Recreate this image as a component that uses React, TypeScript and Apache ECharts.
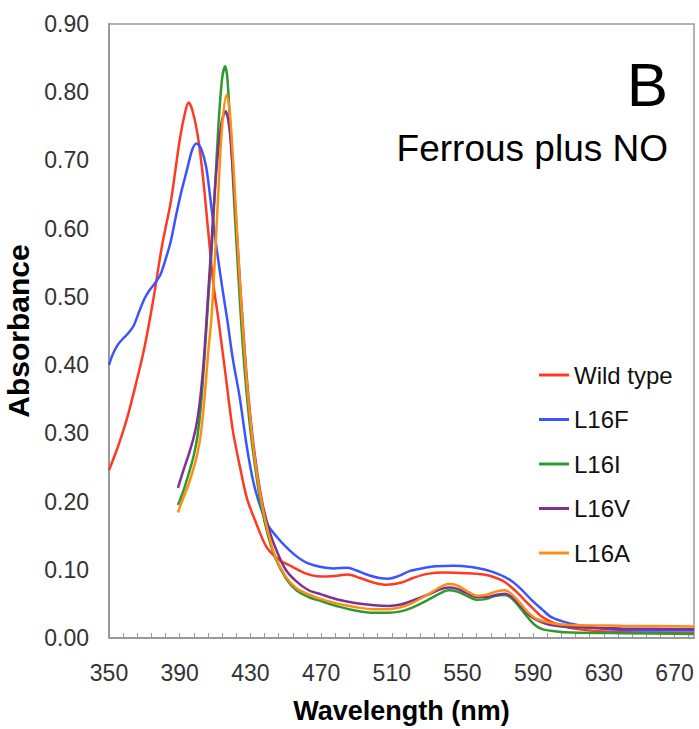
import * as echarts from "echarts";
import { useEffect, useRef } from "react";

// wavelengths (nm) for the full-range scans
const wlWild = [350, 355, 360, 365, 370, 375, 380, 385, 390, 393, 395, 397, 400, 403, 406, 409, 412, 416, 420, 424, 428, 433, 439, 446, 454, 462, 470, 478, 485, 492, 500, 507, 515, 522, 530, 540, 552, 562, 568, 574, 580, 585, 590, 595, 600, 607, 615, 628, 650, 681];
const absWild = [0.246, 0.28, 0.32, 0.37, 0.425, 0.495, 0.575, 0.64, 0.73, 0.77, 0.785, 0.775, 0.74, 0.68, 0.6, 0.52, 0.465, 0.385, 0.305, 0.252, 0.205, 0.17, 0.134, 0.115, 0.104, 0.094, 0.09, 0.091, 0.093, 0.088, 0.081, 0.078, 0.081, 0.088, 0.094, 0.096, 0.095, 0.093, 0.089, 0.082, 0.069, 0.056, 0.043, 0.031, 0.024, 0.017, 0.013, 0.01, 0.008, 0.007];

const wlL16F = [350, 352, 355, 358, 361, 364, 367, 370, 373, 376, 379, 382, 385, 388, 391, 394, 397, 399.5, 402, 405, 408, 411, 414, 417, 420, 424, 428, 432, 436, 440, 445, 450, 456, 462, 470, 477, 485, 490, 497, 503, 508, 514, 520, 527, 535, 545, 555, 563, 570, 577, 583, 589, 595, 600, 607, 615, 625, 638, 660, 681];
const absL16F = [0.4, 0.415, 0.43, 0.439, 0.447, 0.458, 0.478, 0.497, 0.51, 0.52, 0.532, 0.555, 0.582, 0.62, 0.655, 0.685, 0.715, 0.725, 0.718, 0.69, 0.63, 0.569, 0.515, 0.465, 0.41, 0.352, 0.28, 0.225, 0.19, 0.165, 0.148, 0.134, 0.12, 0.11, 0.104, 0.102, 0.103, 0.099, 0.092, 0.088, 0.087, 0.091, 0.098, 0.102, 0.105, 0.106, 0.104, 0.1, 0.094, 0.085, 0.072, 0.056, 0.042, 0.031, 0.024, 0.019, 0.015, 0.012, 0.011, 0.011];

// mutants scanned from 389 nm
const wlL16I = [389, 392, 395, 398, 400, 402, 404, 406, 408, 410, 412, 414, 415.7, 417, 419, 421, 423, 425, 427, 430, 433, 436, 440, 444, 450, 456, 463, 470, 480, 490, 500, 508, 515, 522, 530, 537, 542, 547, 553, 558, 563, 569, 574, 578, 583, 587, 591, 595, 602, 612, 640, 681];
const absL16I = [0.195, 0.215, 0.24, 0.268, 0.295, 0.34, 0.41, 0.49, 0.565, 0.66, 0.755, 0.82, 0.838, 0.82, 0.73, 0.63, 0.54, 0.455, 0.385, 0.305, 0.245, 0.195, 0.15, 0.118, 0.088, 0.07, 0.06, 0.054, 0.046, 0.04, 0.037, 0.037, 0.039, 0.045, 0.055, 0.065, 0.07, 0.068, 0.061, 0.056, 0.057, 0.062, 0.063, 0.058, 0.043, 0.03, 0.019, 0.013, 0.01, 0.008, 0.007, 0.006];

const wlL16V = [389, 392, 395, 398, 400, 402, 404, 406, 408, 410, 412, 414, 416, 418, 420, 422, 424, 426, 428, 431, 434, 437, 441, 445, 450, 456, 463, 470, 480, 490, 500, 508, 515, 522, 530, 537, 542, 547, 553, 558, 563, 569, 574, 578, 583, 588, 594, 600, 610, 640, 681];
const absL16V = [0.22, 0.245, 0.268, 0.295, 0.32, 0.36, 0.42, 0.5, 0.58, 0.66, 0.72, 0.76, 0.772, 0.75, 0.69, 0.61, 0.525, 0.45, 0.38, 0.3, 0.24, 0.195, 0.155, 0.127, 0.1, 0.083, 0.07, 0.064, 0.056, 0.051, 0.048, 0.047, 0.049, 0.055, 0.063, 0.071, 0.074, 0.072, 0.065, 0.06, 0.06, 0.063, 0.065, 0.06, 0.047, 0.033, 0.024, 0.019, 0.016, 0.014, 0.013];

const wlL16A = [389, 392, 395, 398, 400, 402, 404, 406, 408, 410, 412, 414, 416.5, 418, 420, 422, 424, 426, 428, 431, 434, 437, 440, 444, 450, 456, 463, 470, 480, 490, 500, 508, 515, 522, 530, 537, 542, 547, 553, 558, 563, 569, 574, 578, 583, 587, 592, 600, 610, 640, 681];
const absL16A = [0.184, 0.205, 0.225, 0.25, 0.27, 0.3, 0.35, 0.415, 0.47, 0.56, 0.66, 0.75, 0.796, 0.78, 0.71, 0.615, 0.525, 0.445, 0.375, 0.295, 0.235, 0.19, 0.155, 0.12, 0.09, 0.073, 0.064, 0.057, 0.05, 0.045, 0.042, 0.042, 0.045, 0.052, 0.063, 0.074, 0.079, 0.077, 0.068, 0.062, 0.063, 0.068, 0.07, 0.064, 0.05, 0.038, 0.028, 0.022, 0.019, 0.018, 0.017];

const seriesNames = ["Wild type", "L16F", "L16I", "L16V", "L16A"];
const seriesColors = ["#ff3a22", "#3a55ff", "#2e9a2e", "#7b3290", "#ff8c14"];
const FONT = "Liberation Sans, Arial, sans-serif";

function pairs(xs: number[], ys: number[]) {
  return xs.map((x, i) => [x, ys[i]]);
}

export default function App() {
  const chartRef = useRef<HTMLDivElement>(null);
  useEffect(() => {
    const chart = echarts.init(chartRef.current, null, { renderer: "svg" });
    chart.setOption(getChartOption());
    return () => {
      chart.dispose();
    };
  }, []);
  return (
    <div
      ref={chartRef}
      style={{ position: "fixed", left: 0, top: 0, width: "699px", height: "729px", background: "#fff" }}
    />
  );
}

function getChartOption() {
  const allData = [
    pairs(wlWild, absWild),
    pairs(wlL16F, absL16F),
    pairs(wlL16I, absL16I),
    pairs(wlL16V, absL16V),
    pairs(wlL16A, absL16A),
  ];
  return {
    animation: false,
    grid: {
      left: 109,
      right: 5,
      top: 24,
      bottom: 91,
      outerBoundsMode: "none",
      containLabel: false,
      show: true,
      borderColor: "#9a9a9a",
      borderWidth: 1.5,
    },
    legend: {
      orient: "vertical",
      left: 539,
      top: 363,
      padding: 0,
      icon: "rect",
      itemWidth: 30,
      itemHeight: 3,
      itemGap: 20.5,
      data: seriesNames,
      textStyle: { fontFamily: FONT, fontSize: 24, color: "#111", lineHeight: 24 },
    },
    graphic: [
      {
        type: "text",
        x: 668,
        y: 84,
        style: { text: "B", fontFamily: FONT, fontSize: 62, fill: "#000", textAlign: "right", textVerticalAlign: "middle" },
      },
      {
        type: "text",
        x: 668,
        y: 148,
        style: { text: "Ferrous plus NO", fontFamily: FONT, fontSize: 37, fill: "#000", textAlign: "right", textVerticalAlign: "middle" },
      },
    ],
    xAxis: {
      type: "value",
      min: 350,
      max: 681,
      interval: 8,
      name: "Wavelength (nm)",
      nameLocation: "middle",
      nameGap: 59,
      nameTextStyle: { fontFamily: FONT, fontSize: 27, fontWeight: "bold", color: "#000" },
      axisLine: { lineStyle: { color: "#9a9a9a", width: 2 } },
      axisTick: { show: true, inside: true, length: 5, interval: 0, lineStyle: { color: "#9a9a9a", width: 1 } },
      splitLine: { show: false },
      axisLabel: {
        interval: 0,
        margin: 23,
        fontFamily: FONT,
        fontSize: 23,
        color: "#333",
        showMaxLabel: false,
        formatter: (v: number) => ((v - 350) % 40 === 0 ? String(v) : ""),
      },
    },
    yAxis: {
      type: "value",
      min: 0,
      max: 0.9,
      interval: 0.1,
      name: "Absorbance",
      nameLocation: "middle",
      nameGap: 68,
      nameTextStyle: { fontFamily: FONT, fontSize: 30, fontWeight: "bold", color: "#000" },
      axisLine: { show: true, lineStyle: { color: "#9a9a9a", width: 2 } },
      axisTick: { show: false },
      splitLine: { show: false },
      axisLabel: {
        margin: 20,
        fontFamily: FONT,
        fontSize: 23,
        color: "#333",
        formatter: (v: number) => v.toFixed(2),
      },
    },
    series: seriesNames.map((name, i) => ({
      name,
      type: "line",
      data: allData[i],
      smooth: 0.3,
      showSymbol: false,
      symbol: "none",
      color: seriesColors[i],
      lineStyle: { width: 2.5, color: seriesColors[i] },
    })),
  };
}
